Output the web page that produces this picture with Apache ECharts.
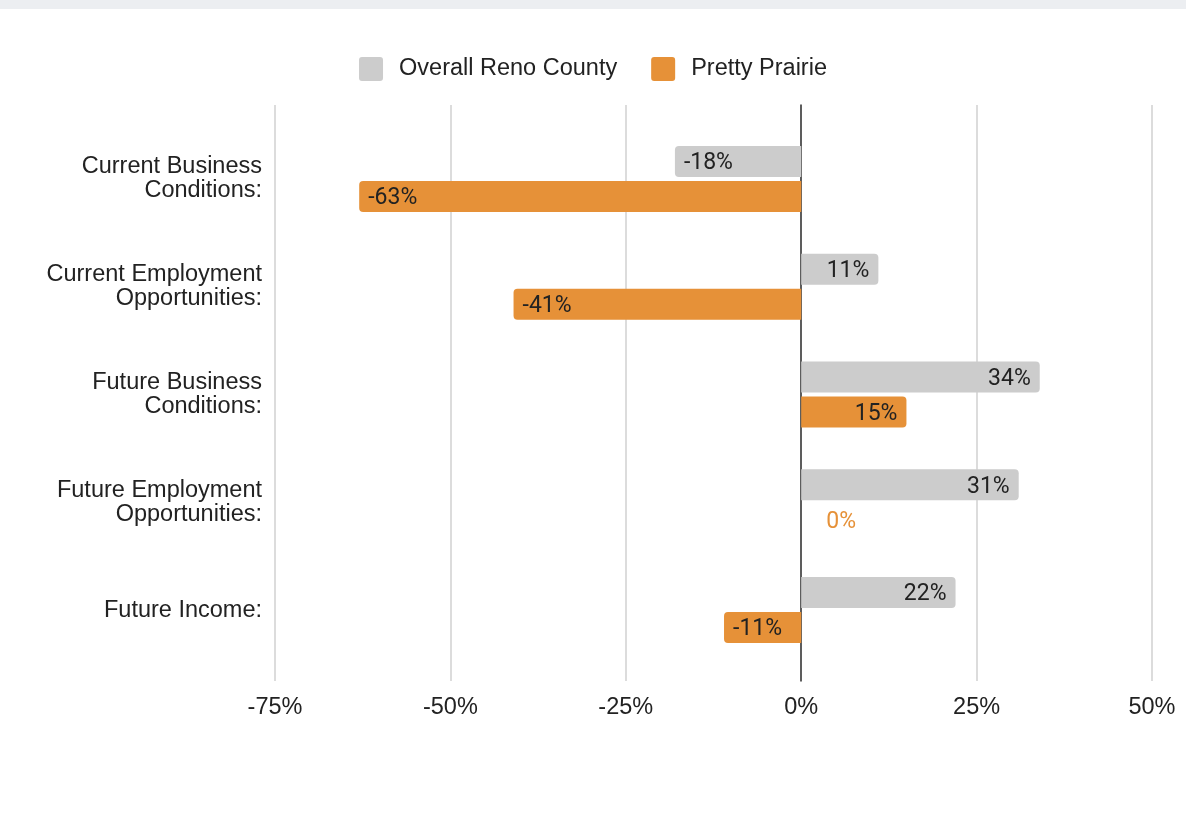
<!DOCTYPE html>
<html>
<head>
<meta charset="utf-8">
<title>Business and Employment Outlook</title>
<script src="https://cdn.jsdelivr.net/npm/echarts@6/dist/echarts.min.js"></script>
<style>
  html, body { margin: 0; padding: 0; background: #ffffff; }
  #chart { width: 1186px; height: 813px; }
</style>
</head>
<body>
<div id="chart"></div>
<script>
// Survey questions (top to bottom)
const categories = [
  'Current Business\nConditions:',
  'Current Employment\nOpportunities:',
  'Future Business\nConditions:',
  'Future Employment\nOpportunities:',
  'Future Income:'
];
// Net percentage per question
const overallReno = [-18, 11, 34, 31, 22];
const prettyPrairie = [-63, -41, 15, 0, -11];
const seriesNames = ['Overall Reno County', 'Pretty Prairie'];
const axisTicks = [-75, -50, -25, 0, 25, 50];

const GRAY = '#cccccc';
const ORANGE = '#e69138';
const TEXT = '#222222';
const LABEL_FONT = 'Roboto, "Noto Sans", sans-serif';
const AXIS_FONT = '"Liberation Sans", Arial, sans-serif';
// square legend marker with slightly rounded corners
const LEGEND_ICON = 'path://M3,0H21A3,3,0,0,1,24,3V21A3,3,0,0,1,21,24H3A3,3,0,0,1,0,21V3A3,3,0,0,1,3,0Z';

// Each bar gets its label at its outer end and rounded outer corners.
function barItems(values, zeroColor) {
  return values.map(v => {
    const item = { value: v };
    if (v > 0) {
      item.itemStyle = { borderRadius: [0, 4, 4, 0] };
      item.label = { position: 'insideRight' };
    } else if (v < 0) {
      item.itemStyle = { borderRadius: [4, 0, 0, 4] };
      item.label = { position: 'insideLeft' };
    } else {
      item.label = { position: 'right', distance: 25, color: zeroColor };
    }
    return item;
  });
}

const labelStyle = {
  show: true,
  distance: 9,
  offset: [0, 2],
  fontFamily: LABEL_FONT,
  fontSize: 23,
  color: TEXT,
  formatter: p => p.value + '%'
};

const chart = echarts.init(document.getElementById('chart'), null, { renderer: 'canvas' });

chart.setOption({
  animation: false,
  backgroundColor: '#ffffff',
  graphic: [{
    type: 'rect',
    left: 0, top: 0,
    shape: { width: 1186, height: 9 },
    style: { fill: '#eceef1' },
    silent: true
  }],
  legend: {
    top: 52,
    left: 'center',
    itemWidth: 24,
    itemHeight: 24,
    itemGap: 34,
    icon: LEGEND_ICON,
    data: seriesNames,
    textStyle: {
      fontFamily: AXIS_FONT,
      fontSize: 23.5,
      color: TEXT,
      padding: [0, 0, 0, 11]
    }
  },
  grid: [
    // bar area
    { left: 275, right: 34, top: 125, bottom: 149, containLabel: false },
    // frame for the gridlines, tick labels and zero line
    { left: 275, right: 34, top: 105, bottom: 132, containLabel: false }
  ],
  xAxis: [
    {
      gridIndex: 0, type: 'value',
      min: axisTicks[0], max: axisTicks[axisTicks.length - 1], interval: 25,
      axisLine: { show: false }, axisTick: { show: false },
      axisLabel: { show: false }, splitLine: { show: false }
    },
    {
      gridIndex: 1, type: 'value',
      min: axisTicks[0], max: axisTicks[axisTicks.length - 1], interval: 25,
      axisLine: { show: false }, axisTick: { show: false },
      axisLabel: {
        margin: 15,
        fontFamily: AXIS_FONT,
        fontSize: 23.5,
        color: TEXT,
        formatter: v => v + '%'
      },
      splitLine: { show: true, lineStyle: { color: '#d0d0d0', width: 1.5 } }
    }
  ],
  yAxis: [
    {
      gridIndex: 0, type: 'category', inverse: true,
      data: categories,
      axisLine: { show: false }, axisTick: { show: false },
      axisLabel: {
        margin: 13,
        fontFamily: AXIS_FONT,
        fontSize: 23.5,
        lineHeight: 24,
        color: TEXT,
        align: 'right'
      }
    },
    {
      gridIndex: 1, type: 'category', inverse: true,
      data: categories,
      axisLine: { show: true, onZero: true, lineStyle: { color: '#333333', width: 1.5 } },
      axisTick: { show: false },
      axisLabel: { show: false },
      splitLine: { show: false }
    }
  ],
  series: [
    {
      name: seriesNames[0],
      type: 'bar',
      xAxisIndex: 0, yAxisIndex: 0,
      barWidth: 31,
      barGap: '13%',
      itemStyle: { color: GRAY },
      label: labelStyle,
      data: barItems(overallReno, GRAY),
      z: 3
    },
    {
      name: seriesNames[1],
      type: 'bar',
      xAxisIndex: 0, yAxisIndex: 0,
      barWidth: 31,
      barGap: '13%',
      itemStyle: { color: ORANGE },
      label: labelStyle,
      data: barItems(prettyPrairie, ORANGE),
      z: 3
    }
  ]
});
</script>
</body>
</html>
